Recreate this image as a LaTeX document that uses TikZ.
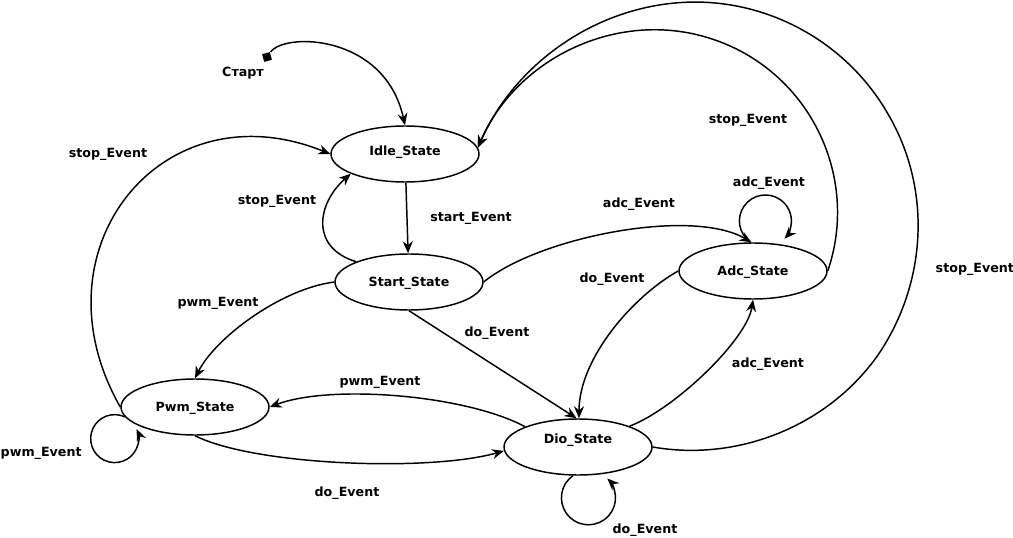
\documentclass[tikz,border=0pt]{standalone}
\usepackage{fontspec}
\setmainfont{DejaVu Sans}
\usetikzlibrary{arrows.meta,shapes.geometric}

\begin{document}
\begin{tikzpicture}[x=0.75pt, y=-0.75pt, line width=1.1pt,
  every node/.style={font=\bfseries\fontsize{9.5}{11}\selectfont},
  state/.style={draw, ellipse, minimum width=111pt, minimum height=42pt, inner sep=0pt, text height=6.9pt, text depth=0pt},
  lbl/.style={inner sep=0pt, text height=6.9pt, text depth=0pt},
  trans/.style={-{Stealth[length=9pt, width=7.5pt, inset=3pt]}}]
  \useasboundingbox (0,0) rectangle (1013,538);
  \node[state, text depth=5pt] (idle) at (405,154) {Idle\_State};
  \node[state] (start) at (409,282) {Start\_State};
  \node[state] (adc) at (753,271) {Adc\_State};
  \node[state] (pwm) at (195,407) {Pwm\_State};
  \node[state, text depth=12.8pt] (dio) at (578,447) {Dio\_State};
  \node[fill, rectangle, minimum size=6pt, inner sep=0pt, rotate=15] (init) at (267,57) {};
  \node[lbl] (initlbl) at (243,72) {Старт};
  \draw[trans] (init) .. controls +(18,-25) and +(-20,-91) .. (idle.north);
  \draw[trans] (idle) -- (start);
  \draw[trans] (start.159) .. controls +(-46,-14) and +(-34,30) .. (idle.200);
  \draw[trans] (pwm.west) .. controls +(-90,-158) and +(-168,-68) .. (idle.west);
  \draw[trans] (start.west) .. controls +(-54,7) and +(20,-40) .. (pwm.north);
  \draw[trans] (start.south) -- (dio.93);
  \draw[trans] (adc.west) .. controls +(-45,25) and +(0,-60) .. (dio.88);
  \draw[trans] (dio.22) .. controls +(45,-17) and +(-6,40) .. (adc.south);
  \draw[trans] (start.east) .. controls +(55,-45) and +(-60,-35) .. (adc.93);
  \draw[trans] (adc.95) arc[start angle=125, end angle=403, radius=26];
  \draw[trans] (dio.260) arc[start angle=-125, end angle=-405.7, radius=27];
  \draw[trans] (pwm.188) arc[start angle=-65, end angle=-383.5, radius=24];
  \draw[trans] (dio.159) .. controls +(-60,-32) and +(61,-23) .. (pwm.east);
  \draw[trans] (pwm.south) .. controls +(60,30) and +(-74,21) .. (dio.183);
  \draw[trans] (adc.east) .. controls (860,177) and (810,73) .. (715,40)
    .. controls (621,7) and (517,57) .. (idle.5);
  \draw[trans] (dio.east) .. controls (738,462) and (828,426) .. (878,355)
    .. controls (927,283) and (932,189) .. (888,114)
    .. controls (845,39) and (761,-5) .. (675,3)
    .. controls (588,11) and (513,68) .. (idle.5);
  \node[lbl] (stop1) at (108,153) {stop\_Event};
  \node[lbl] (stop2) at (277,200) {stop\_Event};
  \node[lbl] (stop3) at (748,119) {stop\_Event};
  \node[lbl, anchor=west] (stop4) at (935,268) {stop\_Event};
  \node[lbl] (startev) at (471,217) {start\_Event};
  \node[lbl] (adc1) at (639,203) {adc\_Event};
  \node[lbl] (adc2) at (769,182) {adc\_Event};
  \node[lbl] (adc3) at (768,363) {adc\_Event};
  \node[lbl] (do1) at (612,278) {do\_Event};
  \node[lbl] (do2) at (497,332) {do\_Event};
  \node[lbl] (do3) at (347,492) {do\_Event};
  \node[lbl] (do4) at (645,529) {do\_Event};
  \node[lbl] (pwm1) at (218,302) {pwm\_Event};
  \node[lbl] (pwm2) at (380,381) {pwm\_Event};
  \node[lbl, anchor=west] (pwm3) at (0,452) {pwm\_Event};
\end{tikzpicture}
\end{document}
